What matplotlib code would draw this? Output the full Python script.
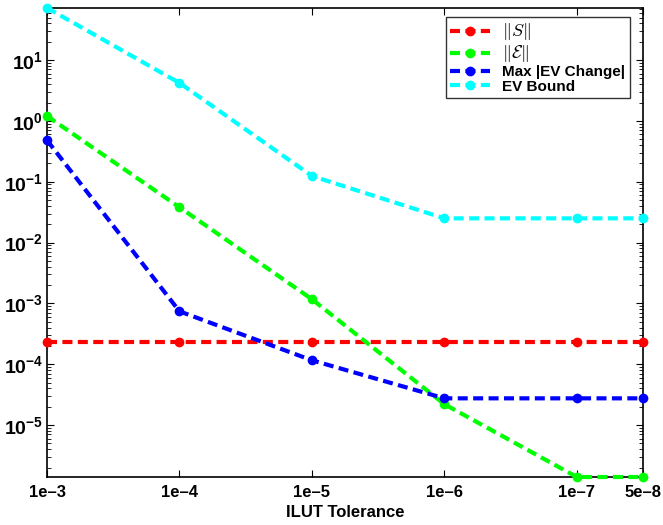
import matplotlib
matplotlib.use('Agg')
import matplotlib.pyplot as plt
from matplotlib.ticker import LogLocator, NullFormatter, FixedLocator

plt.rcParams['font.family'] = ['Liberation Sans', 'DejaVu Sans']
plt.rcParams['font.weight'] = 'bold'
plt.rcParams['mathtext.fontset'] = 'cm'

# data
tol_labels = ['1e\u20133', '1e\u20134', '1e\u20135', '1e\u20136', '1e\u20137', '5e\u20138']
tol_pos = [3, 4, 5, 6, 7, 7.5]
norm_S = [2.3e-4, 2.3e-4, 2.3e-4, 2.3e-4, 2.3e-4, 2.3e-4]
norm_E = [1.2, 0.038, 1.17e-3, 2.2e-5, 1.4e-6, 1.4e-6]
max_ev_change = [0.48, 7.4e-4, 1.16e-4, 2.75e-5, 2.75e-5, 2.75e-5]
ev_bound = [72, 4.2, 0.124, 0.025, 0.025, 0.025]
y_decades = [-5, -4, -3, -2, -1, 0, 1]

series = [
    (norm_S, (1, 0, 0), r'$\|S\|$'),
    (norm_E, (0, 1, 0), r'$\|\mathcal{E}\|$'),
    (max_ev_change, (0, 0, 1), 'Max |EV Change|'),
    (ev_bound, (0, 1, 1), 'EV Bound'),
]

fig = plt.figure(figsize=(6.63, 5.25), dpi=100)
ax = fig.add_axes([0.0709, 0.0914, 0.8991, 0.8936])

for vals, col, lab in series:
    ax.plot(tol_pos, vals, color=col, lw=3, dashes=(2.4, 1.3),
            marker='o', markersize=6, label=lab, clip_on=False, zorder=3)

ax.set_yscale('log')
ax.set_xlim(tol_pos[0], tol_pos[-1])
ax.set_ylim(min(norm_E), max(ev_bound))
ax.set_xticks(tol_pos)
ax.set_xticklabels(tol_labels)
ax.yaxis.set_major_locator(FixedLocator([10.0 ** d for d in y_decades]))
ax.yaxis.set_minor_locator(LogLocator(base=10, subs=range(2, 10), numticks=20))
ax.yaxis.set_minor_formatter(NullFormatter())
ax.tick_params(which='both', direction='in', top=True, right=True)
ax.tick_params(axis='x', labelsize=12, pad=6)
ax.tick_params(axis='y', labelsize=14, pad=3)
ax.tick_params(which='major', length=5)
ax.tick_params(which='minor', length=3)
for sp in ax.spines.values():
    sp.set_linewidth(1.2)

ax.set_xlabel('ILUT Tolerance', fontsize=12, fontweight='bold', labelpad=3)

leg = ax.legend(loc='upper right', bbox_to_anchor=(0.978, 0.981),
                prop={'weight': 'bold', 'size': 11},
                fancybox=False, edgecolor='black', handlelength=2.6,
                borderaxespad=0, labelspacing=0.05, borderpad=0.3)
leg.get_frame().set_linewidth(1.0)
for t in leg.get_texts()[:2]:
    t.set_fontsize(13)

fig.savefig('out.png', dpi=100)
